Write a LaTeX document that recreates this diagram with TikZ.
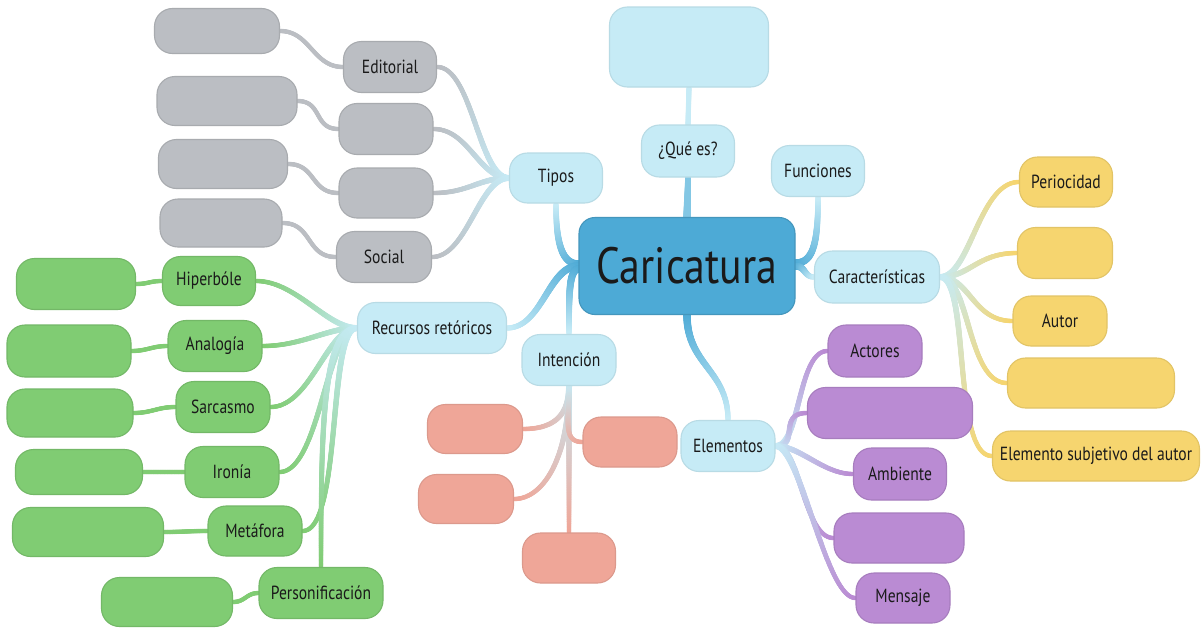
\documentclass[tikz,border=0pt]{standalone}
\usepackage{fontspec}
\setmainfont[FakeStretch=0.82]{PT Sans}
\usetikzlibrary{decorations.markings,calc}
\pgfdeclarelayer{back}
\pgfdeclarelayer{bg}
\pgfsetlayers{back,bg,main}
\definecolor{cmain}{HTML}{4DAAD6}
\definecolor{clb}{HTML}{C6EBF6}
\definecolor{cgray}{HTML}{BBBEC3}
\definecolor{cgreen}{HTML}{80CC73}
\definecolor{cyellow}{HTML}{F6D56F}
\definecolor{cpurple}{HTML}{BA8BD3}
\definecolor{csalmon}{HTML}{EFA698}
\definecolor{ctext}{HTML}{1A1A1A}
\newcommand\lblfont{\fontsize{19}{21}\selectfont}
\newcommand\bigfont{\fontsize{51}{55}\selectfont}
\tikzset{
  conn/.style n args={4}{
    decoration={markings,
      mark=between positions 0 and 1 step 0.7pt with {%
        \pgfmathsetmacro\mkt{\pgfkeysvalueof{/pgf/decoration/mark info/distance from start}/\pgfdecoratedpathlength}%
        \pgfmathtruncatemacro\mkp{100*(1-\mkt)}%
        \pgfmathsetmacro\mkr{(#3)*(1-\mkt)+(#4)*\mkt}%
        \fill[#1!\mkp!#2] (0pt,0pt) circle[radius=\mkr pt];%
      }},
    decorate
  },
  sz/.style 2 args={minimum width=#1pt, minimum height=#2pt},
  box/.style={rounded corners=18pt, inner sep=0pt, line width=1.1pt, font=\lblfont, text=ctext},
  lbbox/.style={box, fill=clb, draw=clb!93!black},
  mainbox/.style={box, rounded corners=16pt, fill=cmain, draw=cmain!88!black, font=\bigfont},
  graybox/.style={box, fill=cgray, draw=cgray!90!black},
  greenbox/.style={box, fill=cgreen, draw=cgreen!90!black},
  yelbox/.style={box, fill=cyellow, draw=cyellow!92!black},
  purbox/.style={box, fill=cpurple, draw=cpurple!90!black},
  salbox/.style={box, fill=csalmon, draw=csalmon!92!black},
}
\begin{document}
\begin{tikzpicture}[x=1pt,y=-1pt]
\begin{pgfonlayer}{back}
\fill[white] (0,0) rectangle (1202,629);
\end{pgfonlayer}
\useasboundingbox (0,0) rectangle (1202,629);
% light blue
\node[mainbox, sz={216}{97}] (main) at (687,266) {Caricatura};
\node[lbbox, sz={159}{80}] (qbox) at (689,47) {};
\node[lbbox, sz={93}{52}] (que) at (688,151) {¿Qué es?};
\node[lbbox, sz={93}{51}] (fun) at (818,171) {Funciones};
\node[lbbox, sz={93}{50}] (tipos) at (556,178) {Tipos};
\node[lbbox, sz={125}{52}] (car) at (877,277) {Características};
\node[lbbox, sz={149}{51}] (rec) at (432,328) {Recursos retóricos};
\node[lbbox, sz={94}{51}] (int) at (569,360) {Intención};
\node[lbbox, sz={94}{51}] (ele) at (728,446) {Elementos};
% gray
\node[graybox, sz={125}{45}] (g1) at (217,31) {};
\node[graybox, sz={93}{51}] (ed) at (390,67) {Editorial};
\node[graybox, sz={140}{49}] (g2) at (227,101) {};
\node[graybox, sz={94}{51}] (gm2) at (386,129) {};
\node[graybox, sz={129}{49}] (g3) at (223,164) {};
\node[graybox, sz={94}{50}] (gm3) at (386,193) {};
\node[graybox, sz={122}{48}] (g4) at (221,223) {};
\node[graybox, sz={95}{51}] (soc) at (384,257) {Social};
% green
\node[greenbox, sz={119}{51}] (gl1) at (76,284) {};
\node[greenbox, sz={93}{49}] (hip) at (209,281) {Hiperbóle};
\node[greenbox, sz={124}{52}] (gl2) at (69,351) {};
\node[greenbox, sz={94}{51}] (ana) at (215,346) {Analogía};
\node[greenbox, sz={126}{48}] (gl3) at (70,413) {};
\node[greenbox, sz={94}{51}] (sar) at (223,407) {Sarcasmo};
\node[greenbox, sz={127}{45}] (gl4) at (79,472) {};
\node[greenbox, sz={94}{51}] (iro) at (232,472) {Ironía};
\node[greenbox, sz={151}{49}] (gl5) at (88,532) {};
\node[greenbox, sz={94}{50}] (met) at (255,531) {Metáfora};
\node[greenbox, sz={131}{49}] (gl6) at (167,602) {};
\node[greenbox, sz={124}{51}] (pers) at (321,593) {Personificación};
% yellow
\node[yelbox, sz={93}{50}] (y1) at (1066,182) {Periocidad};
\node[yelbox, sz={95}{51}] (y2) at (1065,253) {};
\node[yelbox, sz={94}{50}] (y3) at (1060,321) {Autor};
\node[yelbox, sz={167}{50}] (y4) at (1091,383) {};
\node[yelbox, sz={207}{50}] (y5) at (1096,456) {Elemento subjetivo del autor};
% purple
\node[purbox, sz={94}{52}] (p1) at (875,351) {Actores};
\node[purbox, sz={165}{51}] (p2) at (890,413) {};
\node[purbox, sz={93}{52}] (p3) at (900,474) {Ambiente};
\node[purbox, sz={130}{50}] (p4) at (899,538) {};
\node[purbox, sz={94}{50}] (p5) at (903,598) {Mensaje};
% salmon
\node[salbox, sz={95}{49}] (s1) at (475,429) {};
\node[salbox, sz={95}{49}] (s2) at (466,499) {};
\node[salbox, sz={93}{50}] (s3) at (569,558) {};
\node[salbox, sz={94}{50}] (s4) at (630,442) {};

\begin{pgfonlayer}{bg}
% main branches
\path[conn={cmain}{cmain!55!clb}{3.8}{2.8}] (main.north) -- (que.south);
\path[conn={clb}{clb}{2.6}{2.6}] (que.north) -- (qbox.south);
\path[conn={cmain}{clb}{3.8}{2.6}] ($(main.east)+(0,-3)$) .. controls +(18,0) and +(0,45) .. (fun.south);
\path[conn={cmain}{clb}{3.8}{2.6}] (main.east) .. controls +(10,0) and +(-10,0) .. (car.west);
\path[conn={cmain}{clb}{3.8}{2.6}] ($(main.west)+(0,-2)$) .. controls +(-18,0) and +(0,35) .. (tipos.south);
\path[conn={cmain}{clb}{3.8}{2.6}] (main.west) .. controls +(-30,0) and +(35,0) .. (rec.east);
\path[conn={cmain}{clb}{3.8}{2.6}] ($(main.west)+(0,3)$) .. controls +(-10,0) and +(0,-35) .. (int.north);
\path[conn={cmain}{clb}{3.8}{2.6}] (main.south) .. controls +(0,50) and +(0,-50) .. (ele.north);
% tipos
\foreach \c in {ed,gm2,gm3,soc}
  \path[conn={clb}{cgray}{3}{2.2}] (tipos.west) .. controls +(-30,0) and +(35,0) .. (\c.east);
\path[conn={cgray}{cgray}{2.2}{2.2}] (g1.east) .. controls +(30,0) and +(-30,0) .. (ed.west);
\path[conn={cgray}{cgray}{2.2}{2.2}] (g2.east) .. controls +(25,0) and +(-25,0) .. (gm2.west);
\path[conn={cgray}{cgray}{2.2}{2.2}] (g3.east) .. controls +(28,0) and +(-28,0) .. (gm3.west);
\path[conn={cgray}{cgray}{2.2}{2.2}] (g4.east) .. controls +(30,0) and +(-30,0) .. (soc.west);
% recursos
\foreach \c in {hip,ana,sar,iro,met}
  \path[conn={clb}{cgreen}{3}{2.2}] (rec.west) .. controls +(-30,0) and +(40,0) .. (\c.east);
\path[conn={clb}{cgreen}{3}{2.2}] (rec.west) .. controls +(-35,0) and +(0,-130) .. (pers.north);
\path[conn={cgreen}{cgreen}{2.2}{2.2}] (gl1.east) .. controls +(12,0) and +(-12,0) .. (hip.west);
\path[conn={cgreen}{cgreen}{2.2}{2.2}] (gl2.east) .. controls +(15,0) and +(-15,0) .. (ana.west);
\path[conn={cgreen}{cgreen}{2.2}{2.2}] (gl3.east) .. controls +(18,0) and +(-18,0) .. (sar.west);
\path[conn={cgreen}{cgreen}{2.2}{2.2}] (gl4.east) .. controls +(18,0) and +(-18,0) .. (iro.west);
\path[conn={cgreen}{cgreen}{2.2}{2.2}] (gl5.east) .. controls +(20,0) and +(-20,0) .. (met.west);
\path[conn={cgreen}{cgreen}{2.2}{2.2}] (gl6.east) .. controls +(12,0) and +(-12,0) .. (pers.west);
% caracteristicas
\foreach \c in {y1,y2,y3,y4,y5}
  \path[conn={clb}{cyellow}{3}{2.2}] (car.east) .. controls +(30,0) and +(-40,0) .. (\c.west);
% elementos
\foreach \c in {p1,p2,p3,p4,p5}
  \path[conn={clb}{cpurple}{3}{2.2}] (ele.east) .. controls +(25,0) and +(-30,0) .. (\c.west);
% intencion
\path[conn={clb}{csalmon}{3}{2.2}] (int.south) .. controls +(0,30) and +(30,0) .. (s1.east);
\path[conn={clb}{csalmon}{3}{2.2}] (int.south) .. controls +(0,70) and +(30,0) .. (s2.east);
\path[conn={clb}{csalmon}{3}{2.2}] (int.south) -- (s3.north);
\path[conn={clb}{csalmon}{3}{2.2}] (int.south) .. controls +(0,35) and +(-20,0) .. (s4.west);
\end{pgfonlayer}
\end{tikzpicture}
\end{document}
